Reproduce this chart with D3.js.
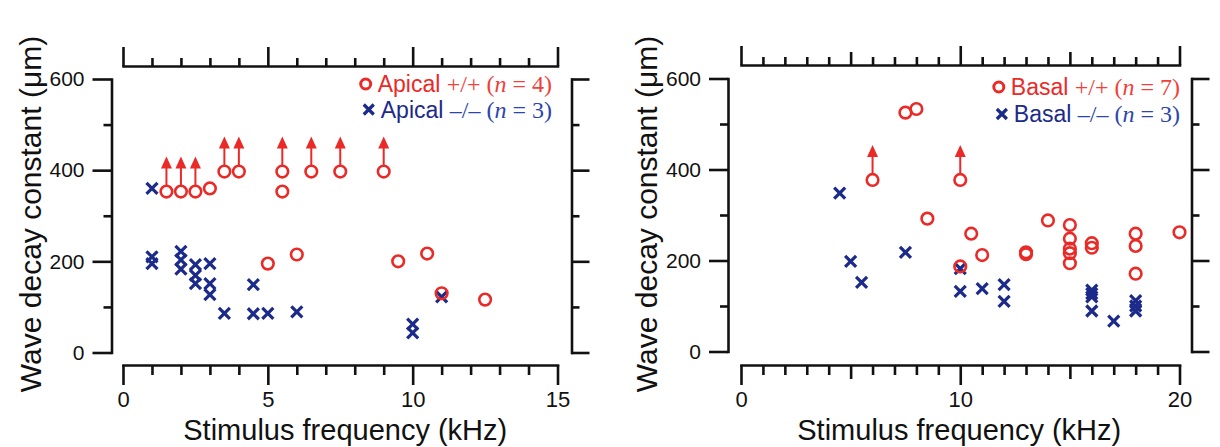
<!DOCTYPE html>
<html><head><meta charset="utf-8">
<script src="https://cdn.jsdelivr.net/npm/d3@7"></script>
<style>
body{margin:0;background:#fff}
svg{display:block}
.ax .domain{stroke:#111;stroke-width:2.6;stroke-linecap:square;fill:none}
.ax .tick line{stroke:#111;stroke-width:2.6}
</style>
</head><body>
<svg id="c" width="1220" height="447"></svg>
<script>
// ---------- DATA ----------
// [frequency kHz, wave decay constant µm, lower-bound arrow (1 = yes)]
const apicalWT = [
  [1.5,353,1],[2.0,353,1],[2.5,353,1],[3.0,360,0],[3.5,397,1],[4.0,397,1],
  [5.5,397,1],[6.5,397,1],[7.5,397,1],[9.0,397,1],[5.5,353,0],
  [5.0,195,0],[6.0,215,0],[9.5,200,0],[10.5,217,0],[11.0,130,0],[12.5,116,0]
];
const apicalKO = [
  [1.0,360],[1.0,210],[1.0,195],[2.0,222],[2.0,203],[2.0,183],
  [2.5,193],[2.5,169],[2.5,151],[3.0,195],[3.0,151],[3.0,127],
  [3.5,86],[4.5,149],[4.5,85],[5.0,86],[6.0,89],[10.0,62],[10.0,43],[11.0,122]
];
const basalWT = [
  [6.0,377,1],[10.0,377,1],[7.5,525,0],[8.0,533,0],[8.5,292,0],[10.5,259,0],
  [11.0,212,0],[10.0,187,0],[13.0,218,0],[13.0,214,0],[14.0,288,0],
  [15.0,278,0],[15.0,248,0],[15.0,226,0],[15.0,216,0],[15.0,194,0],
  [16.0,238,0],[16.0,228,0],[18.0,259,0],[18.0,232,0],[18.0,171,0],[20.0,262,0]
];
const basalKO = [
  [4.5,348],[5.0,198],[5.5,152],[7.5,218],[10.0,182],[10.0,132],[11.0,138],
  [12.0,147],[12.0,110],[16.0,135],[16.0,127],[16.0,120],[16.0,89],[17.0,67],
  [18.0,112],[18.0,100],[18.0,89]
];
const yTicksMajor = [0,200,400,600];
const yTicksMinor = [100,300,500];
const leftXMajor = [0,5,10,15];
const rightXMajor = [0,10,20];
const rightXMid = [5,15];
const legendLeft = ["Apical","Apical"];
const legendRight = ["Basal","Basal"];
const legendN = [[4,3],[7,3]];
const xTitle = "Stimulus frequency (kHz)";
const yTitle = "Wave decay constant (μm)";

// ---------- STYLE ----------
const RED = "#ea2a27", RED2 = "#f0403a", BLUE = "#1c2a8a", BLUE2 = "#2b45ad";
const SANS = "'Liberation Sans', Arial, sans-serif";
const SERIF = "'Liberation Serif', 'Times New Roman', serif";
const svg = d3.select("#c");

function panel(cfg){
  const x = d3.scaleLinear().domain([0, cfg.xmax]).range(cfg.xr);
  const y = d3.scaleLinear().domain([0, 600]).range(cfg.yr);
  const g = svg.append("g");
  const minorX = d3.range(0, cfg.xmax + 1).filter(v => !cfg.major.includes(v) && !(cfg.mid||[]).includes(v));

  // bottom axis
  const gb = g.append("g").attr("class","ax").attr("transform",`translate(0,${cfg.bottomY})`);
  gb.call(d3.axisBottom(x).tickValues(cfg.major).tickSize(20).tickSizeOuter(0).tickPadding(6).tickFormat(d3.format("d")));
  gb.append("g").call(d3.axisBottom(x).tickValues(minorX).tickSize(10).tickFormat("")).select(".domain").remove();
  if (cfg.mid) gb.append("g").call(d3.axisBottom(x).tickValues(cfg.mid).tickSize(14).tickFormat("")).select(".domain").remove();
  gb.selectAll("text").attr("font-family",SANS).attr("font-size",22).attr("fill","#111");

  // top axis
  const gt = g.append("g").attr("class","ax").attr("transform",`translate(0,${cfg.topY})`);
  gt.call(d3.axisTop(x).tickValues(cfg.major).tickSize(19).tickSizeOuter(0).tickFormat(""));
  gt.append("g").call(d3.axisTop(x).tickValues(minorX).tickSize(8).tickFormat("")).select(".domain").remove();
  if (cfg.mid) gt.append("g").call(d3.axisTop(x).tickValues(cfg.mid).tickSize(13).tickFormat("")).select(".domain").remove();

  // left axis
  const gl = g.append("g").attr("class","ax").attr("transform",`translate(${cfg.leftX},0)`);
  gl.call(d3.axisLeft(y).tickValues(yTicksMajor).tickSize(19).tickSizeOuter(0).tickPadding(8));
  gl.append("g").call(d3.axisLeft(y).tickValues(yTicksMinor).tickSize(8).tickFormat("")).select(".domain").remove();
  gl.selectAll("text").attr("font-family",SANS).attr("font-size",21).attr("fill","#111");

  // right axis
  const gr = g.append("g").attr("class","ax").attr("transform",`translate(${cfg.rightX},0)`);
  gr.call(d3.axisRight(y).tickValues(yTicksMajor).tickSize(18).tickSizeOuter(0).tickFormat(""));
  gr.append("g").call(d3.axisRight(y).tickValues(yTicksMinor).tickSize(8).tickFormat("")).select(".domain").remove();

  // titles
  g.append("text").attr("x", d3.mean(cfg.xr) + cfg.xtOff).attr("y", 440)
    .attr("text-anchor","middle").attr("font-family",SANS).attr("font-size",29).attr("fill","#111").text(xTitle);
  g.append("text").attr("transform",`translate(${cfg.ytX},${cfg.ytY}) rotate(-90)`)
    .attr("text-anchor","middle").attr("font-family",SANS).attr("font-size",30).attr("fill","#111").text(yTitle);

  // KO crosses
  const s = 5.5;
  g.append("g").selectAll("path").data(cfg.ko).join("path")
    .attr("d", d => { const cx = x(d[0]), cy = y(d[1]);
      return `M${cx-s},${cy-s}L${cx+s},${cy+s}M${cx-s},${cy+s}L${cx+s},${cy-s}`; })
    .attr("stroke",BLUE).attr("stroke-width",3.2).attr("fill","none");

  // WT arrows
  const r = 5.8, alen = 35, hh = 12, hw = 5.5;
  const arr = g.append("g").selectAll("g").data(cfg.wt.filter(d => d[2])).join("g");
  arr.append("line").attr("x1", d => x(d[0])).attr("x2", d => x(d[0]))
    .attr("y1", d => y(d[1]) - r).attr("y2", d => y(d[1]) - alen + hh - 1)
    .attr("stroke",RED).attr("stroke-width",2);
  arr.append("path").attr("d", d => { const cx = x(d[0]), ty = y(d[1]) - alen;
      return `M${cx},${ty}L${cx+hw},${ty+hh}L${cx-hw},${ty+hh}Z`; })
    .attr("fill",RED);

  // WT circles
  g.append("g").selectAll("circle").data(cfg.wt).join("circle")
    .attr("cx", d => x(d[0])).attr("cy", d => y(d[1])).attr("r", r)
    .attr("fill","none").attr("stroke",RED).attr("stroke-width",2.6);

  // legend
  const lg = g.append("g");
  const rows = [
    {c:RED, c2:RED2, sign:"+/+", n:cfg.n[0], name:cfg.names[0], mark:"o"},
    {c:BLUE, c2:BLUE2, sign:"\u2013/\u2013", n:cfg.n[1], name:cfg.names[1], mark:"x"}
  ];
  rows.forEach((row,i) => {
    const by = cfg.legY + i*cfg.legDy;
    const t = lg.append("text").attr("x", cfg.legX).attr("y", by).attr("text-anchor","end")
      .attr("font-size",23).attr("font-family",SANS).attr("fill",row.c);
    t.append("tspan").text(row.name + " ");
    t.append("tspan").attr("font-family",SERIF).attr("font-size",24).attr("fill",row.c2).text(row.sign + " (");
    t.append("tspan").attr("font-family",SERIF).attr("font-size",24).attr("font-style","italic").attr("fill",row.c2).text("n");
    t.append("tspan").attr("font-family",SERIF).attr("font-size",24).attr("fill",row.c2).text(" = " + row.n + ")");
    const w = t.node().getComputedTextLength();
    const mx = cfg.legX - w - 12, my = by - 8;
    if (row.mark === "o") {
      lg.append("circle").attr("cx",mx).attr("cy",my).attr("r",5).attr("fill","none").attr("stroke",RED).attr("stroke-width",3);
    } else {
      const q = 5;
      lg.append("path").attr("d",`M${mx-q},${my-q}L${mx+q},${my+q}M${mx-q},${my+q}L${mx+q},${my-q}`)
        .attr("stroke",BLUE).attr("stroke-width",3.2);
    }
  });
}

panel({xmax:15, xr:[123,557.5], yr:[352.5,79], bottomY:365, topY:66, leftX:111.5, rightX:571.5,
  major:leftXMajor, wt:apicalWT, ko:apicalKO, n:legendN[0], names:legendLeft,
  legX:552, legY:92, legDy:25.5, xtOff:5, ytX:41, ytY:214});
panel({xmax:20, xr:[741,1179.5], yr:[351.5,78.5], bottomY:365, topY:65, leftX:728, rightX:1191.5,
  major:rightXMajor, mid:rightXMid, wt:basalWT, ko:basalKO, n:legendN[1], names:legendRight,
  legX:1180, legY:95, legDy:27, xtOff:-1, ytX:657, ytY:214});
</script>
</body></html>
